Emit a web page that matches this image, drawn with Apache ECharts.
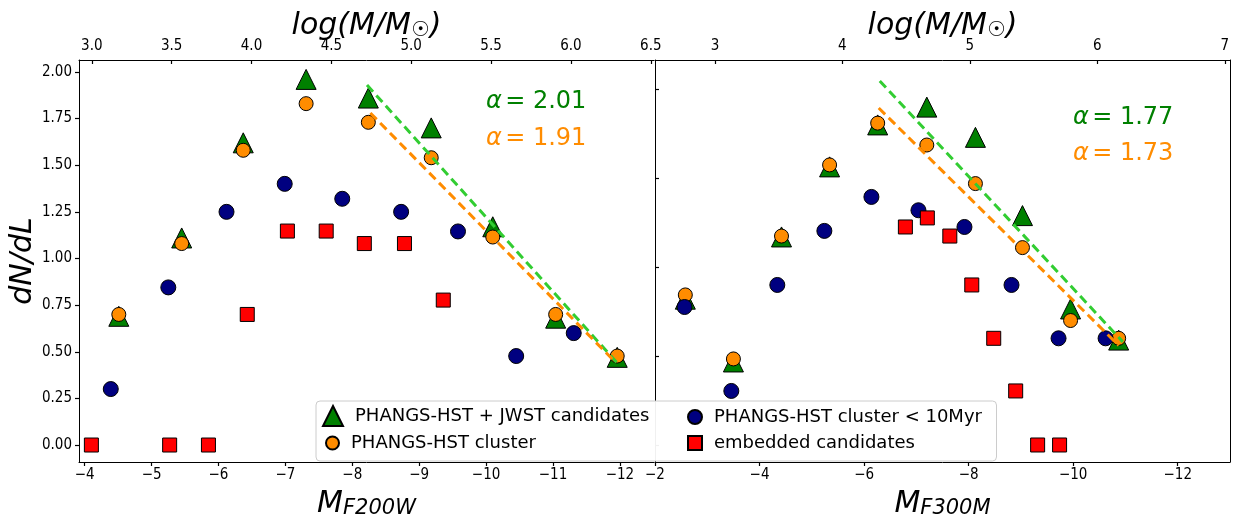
<!DOCTYPE html>
<html><head><meta charset="utf-8">
<script src="https://cdn.jsdelivr.net/npm/echarts@6/dist/echarts.min.js"></script>
<style>html,body{margin:0;padding:0;background:#fff}#c{width:1237px;height:524px}</style>
</head><body><div id="c"></div>
<script>
// ---------- data ----------
// Left panel (M_F200W)
const magL_hj = [-4.51, -5.45, -6.37, -7.31, -8.24, -9.18, -10.10, -11.04, -11.96];
const triL = [0.69, 1.11, 1.62, 1.96, 1.86, 1.70, 1.17, 0.68, 0.47];
const orgL = [0.70, 1.08, 1.58, 1.83, 1.73, 1.54, 1.115, 0.70, 0.477];
const magL_blue = [-4.39, -5.25, -6.12, -6.99, -7.85, -8.73, -9.58, -10.45, -11.31];
const blueL = [0.30, 0.845, 1.25, 1.40, 1.32, 1.25, 1.145, 0.477, 0.60];
const magL_red = [-4.10, -5.27, -5.85, -6.43, -7.03, -7.61, -8.18, -8.78, -9.36];
const redL = [0, 0, 0, 0.70, 1.147, 1.147, 1.08, 1.08, 0.777];
const fitL_green_x = [-8.22, -11.96], fitL_green_y = [1.93, 0.44];
const fitL_orange_x = [-8.27, -11.93], fitL_orange_y = [1.78, 0.445];
// Right panel (M_F300M)
const magR_hj = [-2.58, -3.50, -4.42, -5.34, -6.26, -7.20, -8.13, -9.03, -9.95, -10.87];
const triR = [0.82, 0.467, 1.17, 1.564, 1.80, 1.90, 1.73, 1.29, 0.765, 0.59];
const orgR = [0.844, 0.484, 1.175, 1.575, 1.81, 1.687, 1.47, 1.11, 0.70, 0.60];
const magR_blue = [-2.565, -3.46, -4.34, -5.24, -6.14, -7.04, -7.92, -8.82, -9.72, -10.62];
const blueR = [0.776, 0.304, 0.90, 1.204, 1.395, 1.32, 1.226, 0.90, 0.60, 0.60];
const magR_red = [-6.79, -7.21, -7.64, -8.06, -8.48, -8.90, -9.32, -9.74];
const redR = [1.226, 1.277, 1.175, 0.90, 0.60, 0.304, 0, 0];
const fitR_green_x = [-6.30, -10.95], fitR_green_y = [2.047, 0.58];
const fitR_orange_x = [-6.28, -10.87], fitR_orange_y = [1.895, 0.56];
// tick labels
const ticksBottomL = [-4, -5, -6, -7, -8, -9, -10, -11, -12];
const ticksTopL = [3.0, 3.5, 4.0, 4.5, 5.0, 5.5, 6.0, 6.5];
const ticksBottomR = [-2, -4, -6, -8, -10, -12];
const ticksTopR = [3, 4, 5, 6, 7];
const ticksYL = [0, 0.25, 0.5, 0.75, 1.0, 1.25, 1.5, 1.75, 2.0];
const ticksYR = [0, 0.5, 1.0, 1.5, 2.0];
const alphaL = ['2.01', '1.91'];
const alphaR = ['1.77', '1.73'];
const names = ['PHANGS-HST + JWST candidates', 'PHANGS-HST cluster', 'PHANGS-HST cluster < 10Myr', 'embedded candidates'];

// ---------- chart ----------
const FONT = 'DejaVu Sans';
const TFONT = 'DejaVu Sans Condensed, DejaVu Sans';
const zip = (xs, ys) => xs.map((x, i) => [x, ys[i]]);
const minus = v => (v < 0 ? '\u2212' : '') + Math.abs(v);

const tickLab = { color: '#000', fontFamily: TFONT, fontSize: 15 };
function xAx(grid, pos, min, max, inverse, ticks, fmt, name, tickInside) {
  return {
    type: 'value', gridIndex: grid, position: pos, min, max, inverse,
    axisLine: { show: true, onZero: false, lineStyle: { color: '#000', width: 1 } },
    axisTick: { show: true, inside: tickInside, length: 4, lineStyle: { color: '#000', width: 1.2 }, customValues: ticks },
    axisLabel: Object.assign({ customValues: ticks, formatter: fmt, margin: 6 }, tickLab),
    splitLine: { show: false },
    name: name.text, nameLocation: 'middle', nameGap: name.gap, nameMoveOverlap: false,
    nameTextStyle: { rich: name.rich }
  };
}
const titleRich = {
  t: { fontFamily: FONT, fontSize: 30, fontStyle: 'italic', color: '#000' },
  s: { fontFamily: FONT, fontSize: 21, fontStyle: 'italic', color: '#000', verticalAlign: 'bottom', padding: [0, 0, 0, 0] },
  o: { fontFamily: FONT, fontSize: 21, color: '#000', verticalAlign: 'bottom' }
};
const topName = { text: '{t|log(M/M}{o|\u2609}{t|)}', gap: 19, rich: titleRich };

function scatter(name, xi, yi, xs, ys, symbol, size, color) {
  return {
    type: 'scatter', name, xAxisIndex: xi, yAxisIndex: yi, data: zip(xs, ys),
    symbol, symbolSize: size,
    itemStyle: { color, borderColor: '#000', borderWidth: 1, opacity: 1 },
    emphasis: { disabled: true }, z: 2
  };
}
function fit(xi, yi, xs, ys, color) {
  return {
    type: 'line', xAxisIndex: xi, yAxisIndex: yi, data: zip(xs, ys), showSymbol: false, symbol: 'none',
    lineStyle: { color, width: 3, type: [9, 5] }, z: 3, silent: true
  };
}
function legendItem(name, left, top, w, h, extra) {
  return Object.assign({
    data: [name], left, top, orient: 'vertical', padding: 0, itemWidth: w, itemHeight: h,
    selectedMode: false, z: 21,
    textStyle: { fontFamily: FONT, fontSize: 18, color: '#000', lineHeight: 20, padding: [0, 0, 0, 7] }
  }, extra || {});
}
function alphaText(x, y, val, color) {
  return {
    type: 'text', x, y, z: 10,
    style: {
      text: '{a|\u03b1} {b|= ' + val + '}',
      rich: {
        a: { fontFamily: FONT, fontSize: 24, fontStyle: 'italic', fill: color },
        b: { fontFamily: FONT, fontSize: 24, fill: color }
      },
      fill: color, verticalAlign: 'middle'
    }
  };
}

const chart = echarts.init(document.getElementById('c'), null, { renderer: 'canvas' });
chart.setOption({
  animation: false,
  backgroundColor: '#fff',
  grid: [
    { left: 79, top: 60, width: 575, height: 402, show: false, outerBoundsMode: 'none', containLabel: false },
    { left: 655, top: 60, width: 575, height: 402, show: false, outerBoundsMode: 'none', containLabel: false }
  ],
  xAxis: [
    xAx(0, 'bottom', -12.51, -3.915, true, ticksBottomL, minus,
        { text: '{t|M}{s|F200W}', gap: 27, rich: titleRich }, false),
    xAx(0, 'top', 2.92, 6.52, false, ticksTopL, v => v.toFixed(1), topName, true),
    xAx(1, 'bottom', -13.0, -2.0, true, ticksBottomR, minus,
        { text: '{t|M}{s|F300M}', gap: 27, rich: titleRich }, false),
    xAx(1, 'top', 2.53, 7.04, false, ticksTopR, v => String(v), topName, true)
  ],
  yAxis: [
    {
      type: 'value', gridIndex: 0, min: -0.091, max: 2.064,
      axisLine: { show: true, onZero: false, lineStyle: { color: '#000' } },
      axisTick: { show: true, length: 4, lineStyle: { color: '#000', width: 1.2 }, customValues: ticksYL },
      axisLabel: Object.assign({ customValues: ticksYL, formatter: v => v.toFixed(2), margin: 7 }, tickLab),
      splitLine: { show: false },
      name: '{t|dN/dL}', nameLocation: 'middle', nameGap: 40, nameRotate: 90,
      nameTextStyle: { rich: titleRich }
    },
    {
      type: 'value', gridIndex: 1, min: -0.0956, max: 2.165,
      axisLine: { show: true, onZero: false, lineStyle: { color: '#000' } },
      axisTick: { show: true, inside: true, length: 4, lineStyle: { color: '#000', width: 1.2 }, customValues: ticksYR },
      axisLabel: { show: false },
      splitLine: { show: false }
    },
    {
      type: 'value', gridIndex: 1, position: 'right', min: -0.0956, max: 2.165,
      axisLine: { show: true, onZero: false, lineStyle: { color: '#000' } },
      axisTick: { show: false }, axisLabel: { show: false }, splitLine: { show: false }
    }
  ],
  legend: [
    // first legend also carries the shared legend frame
    legendItem(names[0], 316, 401, 20, 20, {
      padding: [4, 347, 34, 6], z: 20,
      backgroundColor: 'rgba(255,255,255,0.94)', borderColor: '#cccccc', borderWidth: 1, borderRadius: 4
    }),
    legendItem(names[1], 325, 433, 13, 13),
    legendItem(names[2], 687, 407, 14, 14),
    legendItem(names[3], 687, 433, 14, 14)
  ],
  series: [
    scatter(names[0], 0, 0, magL_hj, triL, 'triangle', 20, '#008000'),
    scatter(names[1], 0, 0, magL_hj, orgL, 'circle', 14, '#ff8c00'),
    scatter(names[2], 0, 0, magL_blue, blueL, 'circle', 15, '#000080'),
    scatter(names[3], 0, 0, magL_red, redL, 'rect', 14, '#ff0000'),
    fit(0, 0, fitL_green_x, fitL_green_y, '#32cd32'),
    fit(0, 0, fitL_orange_x, fitL_orange_y, '#ff8c00'),
    scatter(names[0], 2, 1, magR_hj, triR, 'triangle', 20, '#008000'),
    scatter(names[1], 2, 1, magR_hj, orgR, 'circle', 14, '#ff8c00'),
    scatter(names[2], 2, 1, magR_blue, blueR, 'circle', 15, '#000080'),
    scatter(names[3], 2, 1, magR_red, redR, 'rect', 14, '#ff0000'),
    fit(2, 1, fitR_green_x, fitR_green_y, '#32cd32'),
    fit(2, 1, fitR_orange_x, fitR_orange_y, '#ff8c00')
  ],
  graphic: [
    alphaText(486, 102, alphaL[0], '#008000'),
    alphaText(486, 139, alphaL[1], '#ff8c00'),
    alphaText(1073, 118, alphaR[0], '#008000'),
    alphaText(1073, 154, alphaR[1], '#ff8c00')
  ]
});
</script></body></html>
